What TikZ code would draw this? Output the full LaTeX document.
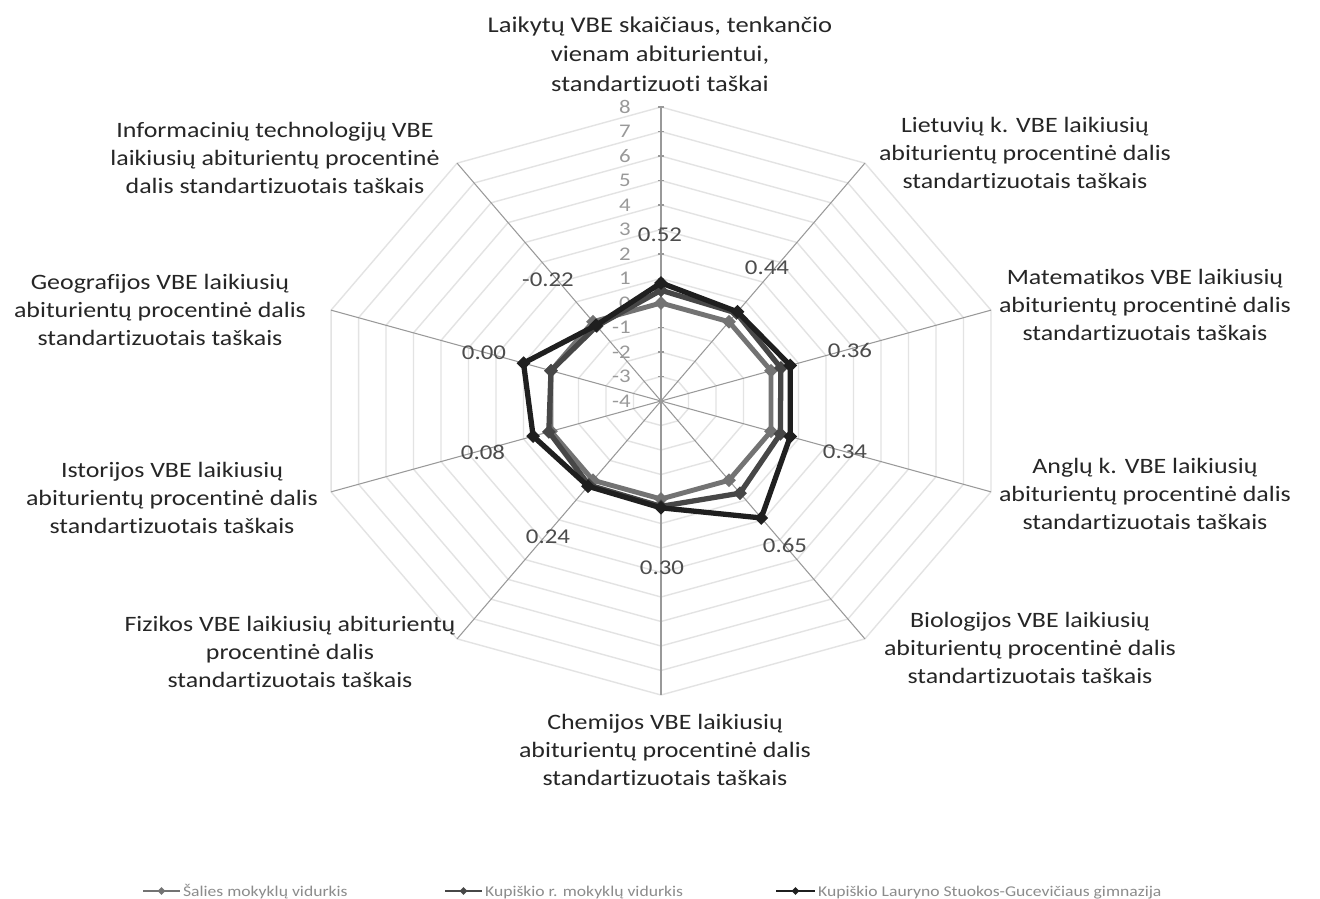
\documentclass[tikz,border=0pt]{standalone}
\usepackage{fontspec}
\setmainfont{Carlito}[FakeStretch=1.18, Ligatures=NoCommon]
\usetikzlibrary{positioning,shapes.geometric}

\tikzset{
  axlabel/.style={align=center, font=\fontsize{12.5}{15.8}\selectfont, text=black!85},
  vallabel/.style={font=\fontsize{12}{14}\selectfont, text=black!70},
  ticklabel/.style={font=\fontsize{11}{13}\selectfont, text=black!40, anchor=east, inner sep=1pt},
  ring/.style={draw=black!11, line width=0.8pt},
  spoke/.style={draw=black!40, line width=0.6pt},
  dmark/.style={diamond, fill=#1, inner sep=0pt, minimum size=8pt},
  salies/.style={draw=black!55, line width=2.8pt, line join=round},
  rajonas/.style={draw=black!72, line width=3pt, line join=round},
  gimnazija/.style={draw=black!88, line width=3pt, line join=round},
  legtext/.style={font=\fontsize{8.5}{10}\selectfont, text=black!45, anchor=base west, inner sep=1pt},
}

% points of one series: name, ten values
\newcommand{\radarpts}[2]{%
  \foreach \v [count=\k from 0] in {#2}
    {\coordinate (#1\k) at ({90-36*\k}:{(\v+4)*24.5});}}

\begin{document}
\begin{tikzpicture}[x=0.02cm, y=-0.02cm]
\useasboundingbox[fill=white] (0,0) rectangle (1320,899);

\begin{scope}[shift={(661,401)}, x={(0.0236cm,0)}, y={(0,0.02cm)}]
  \coordinate (O) at (0,0);
  % grid
  \foreach \r in {1,...,12}
    \draw[ring] (90:{\r*24.5}) \foreach \a in {1,...,9} {-- ({90-36*\a}:{\r*24.5})} -- cycle;
  \foreach \k in {0,...,9} {
    \coordinate (E\k) at ({90-36*\k}:294);
    \draw[spoke] (O) -- (E\k);
  }
  % value axis
  \foreach \r in {0,...,12} {
    \draw[spoke] (-2.5,{\r*24.5}) -- (2.5,{\r*24.5});
    \pgfmathtruncatemacro{\tv}{\r-4}
    \node[ticklabel] (T\r) at (-24,{\r*24.5}) {\tv};
  }

  % series
  \radarpts{S}{0,0,0,0,0,0,0,0,0,0}
  \radarpts{R}{0.52,0.44,0.36,0.34,0.65,0.30,0.24,0.08,0.00,-0.22}
  \radarpts{G}{0.82,0.50,0.70,0.70,1.90,0.36,0.30,0.65,1.00,-0.18}

  \draw[salies] (S0) \foreach \k in {1,...,9} {-- (S\k)} -- cycle;
  \foreach \k in {0,...,9} \node[dmark=black!55] at (S\k) {};
  \draw[rajonas] (R0) \foreach \k in {1,...,9} {-- (R\k)} -- cycle;
  \foreach \k in {0,...,9} \node[dmark=black!72] at (R\k) {};
  \draw[gimnazija] (G0) \foreach \k in {1,...,9} {-- (G\k)} -- cycle;
  \foreach \k in {0,...,9} \node[dmark=black!88] at (G\k) {};
\end{scope}

% data labels
\node[vallabel] (V0) at (660,235) {0.52};
\node[vallabel] (V1) at (767,268) {0.44};
\node[vallabel] (V2) at (850,350) {0.36};
\node[vallabel] (V3) at (845,452) {0.34};
\node[vallabel] (V4) at (785,545) {0.65};
\node[vallabel] (V5) at (662,568) {0.30};
\node[vallabel] (V6) at (548,537) {0.24};
\node[vallabel] (V7) at (483,452) {0.08};
\node[vallabel] (V8) at (484,353) {0.00};
\node[vallabel] (V9) at (548,280) {-0.22};

% axis titles
\node[axlabel, font=\fontsize{12.8}{16.8}\selectfont] (A0) at (660,54)
  {Laikytų VBE skaičiaus, tenkančio\\vienam abiturientui,\\standartizuoti taškai};
\node[axlabel] (A1) at (1025,153)
  {Lietuvių k. VBE laikiusių\\abiturientų procentinė dalis\\standartizuotais taškais};
\node[axlabel] (A2) at (1145,305)
  {Matematikos VBE laikiusių\\abiturientų procentinė dalis\\standartizuotais taškais};
\node[axlabel] (A3) at (1145,494)
  {Anglų k. VBE laikiusių\\abiturientų procentinė dalis\\standartizuotais taškais};
\node[axlabel] (A4) at (1030,648)
  {Biologijos VBE laikiusių\\abiturientų procentinė dalis\\standartizuotais taškais};
\node[axlabel] (A5) at (665,750)
  {Chemijos VBE laikiusių\\abiturientų procentinė dalis\\standartizuotais taškais};
\node[axlabel] (A6) at (290,652)
  {Fizikos VBE laikiusių abiturientų\\procentinė dalis\\standartizuotais taškais};
\node[axlabel] (A7) at (172,498)
  {Istorijos VBE laikiusių\\abiturientų procentinė dalis\\standartizuotais taškais};
\node[axlabel] (A8) at (160,310)
  {Geografijos VBE laikiusių\\abiturientų procentinė dalis\\standartizuotais taškais};
\node[axlabel] (A9) at (275,158)
  {Informacinių technologijų VBE\\laikiusių abiturientų procentinė\\dalis standartizuotais taškais};

% legend
\coordinate (LgS1) at (143,891); \coordinate (LgS2) at (180,891);
\draw[salies, line width=1.4pt] (LgS1) -- (LgS2) node[midway, dmark=black!55, minimum size=5pt] {};
\node[legtext] (LgSt) at (181,896) {Šalies mokyklų vidurkis};
\coordinate (LgR1) at (445,891); \coordinate (LgR2) at (482,891);
\draw[rajonas, line width=1.4pt] (LgR1) -- (LgR2) node[midway, dmark=black!72, minimum size=5pt] {};
\node[legtext] (LgRt) at (483,896) {Kupiškio r. mokyklų vidurkis};
\coordinate (LgG1) at (776,891); \coordinate (LgG2) at (815,891);
\draw[gimnazija, line width=1.4pt] (LgG1) -- (LgG2) node[midway, dmark=black!88, minimum size=5pt] {};
\node[legtext] (LgGt) at (816,896) {Kupiškio Lauryno Stuokos-Gucevičiaus gimnazija};
\end{tikzpicture}
\end{document}
